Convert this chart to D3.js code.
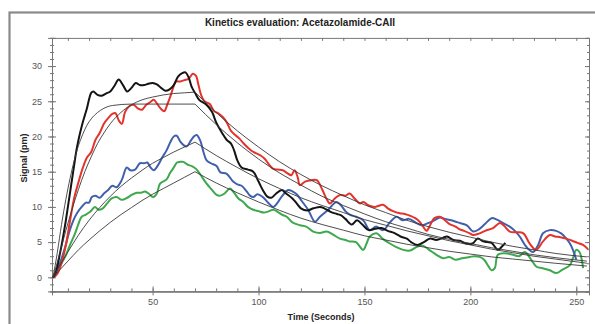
<!DOCTYPE html>
<html>
<head>
<meta charset="utf-8">
<script src="https://cdn.jsdelivr.net/npm/d3@7"></script>
<style>
  body { margin: 0; background: #fff; }
  svg { display: block; font-family: "Liberation Sans", Arial, sans-serif; }
</style>
</head>
<body>
<svg id="chart" width="595" height="324"></svg>
<script>
// tick labels
const timeTicks = [50, 100, 150, 200, 250];
const signalTicks = [0, 5, 10, 15, 20, 25, 30];
const injectionEnd = 70;

// measured signal, [time, signal]
const blackSignal = [
  [3,0],[4,0.5],[5,1.5],[6,3],[7,4.5],[8,6.2],[9,8],[10,10],[11,12],[12,14],[13,16],[14,18],[15,19.5],[16,20.8],[17,22],[18,23],[19,24],[20,25.3],[21,26.2],[22,26.4],[24,25.9],[26,25.8],[28,26.1],[30,26.4],[32,27.2],[34,28.1],[36,27.3],[38,26.4],[40,26.9],[42,27.6],[44,27.3],[46,27.3],[48,27.5],[50,27.6],[52,27.4],[54,26.9],[56,26.5],[58,26.7],[60,27.3],[62,28.5],[64,29.0],[65.5,29.1],[67,28.4],[68.5,27],[70,26.2],[72,25.2],[75,24.6],[78,23.5],[80,22],[83,20.4],[85,19.5],[87,19],[88.5,18],[90,16.6],[92,15.6],[95,15.3],[97.5,15],[100,13.6],[102,12.4],[104,11.5],[106,11.3],[108,11.8],[111,12.4],[113,11.9],[116,11.2],[118,10.5],[120,9.8],[123,9.5],[126,9.8],[129,10],[131,9.8],[134,9.3],[137,9],[139,8.8],[141,8.3],[144,7.5],[146.5,8.1],[149,7.5],[152,6.7],[155,6.9],[158,7.0],[161,6.6],[164,6.3],[167,5.8],[170,5.5],[172,5.0],[175,4.6],[178,5.0],[181,5.5],[184,5.3],[187,5.6],[189,5.8],[192,5.3],[195,5.2],[198,4.8],[201,4.8],[203.5,5.5],[206,5.1],[208,5.0],[210,4.9],[213,3.9],[215,4.4],[216.5,4.9]
];
const redSignal = [
  [3,0],[5,0.5],[7,2],[9,4.5],[11,8],[13,11.3],[15,13.5],[17,15.5],[19,17],[21,17.8],[23,19.5],[25,20.5],[27,21.8],[29,22.6],[31,23.2],[32.5,23.3],[34,22.3],[35.5,21.8],[37,23.5],[39,24.3],[41,24.5],[43,24.0],[45,23.8],[47,24.5],[49,24.9],[50.5,25.2],[52,24.7],[54,23.9],[55.5,23.6],[57,24.6],[58.5,25.8],[60,27.2],[61,27.8],[63,27.8],[65,28.0],[67,28.2],[69,28.9],[70.5,28.6],[71.5,27.5],[73,25.8],[74.5,25.0],[77,24.6],[79,23.6],[81,23.3],[83,22.8],[85,22],[87,20.8],[89,20.2],[91,19.7],[93,19],[95,18.4],[97,17.9],[99,17.6],[101,17.3],[103,16.8],[105,16.0],[107,15.4],[109,15.3],[111.5,15.2],[113.5,14.8],[115.5,14.5],[117,15.2],[118.5,14.2],[119.5,13.1],[122,13.6],[125,13.8],[127.5,13.8],[130,12.5],[132,11.2],[133.7,10.5],[136,11.2],[138.5,11.7],[141,11.6],[143,11.9],[145,11.3],[147.8,10.5],[149.5,10.7],[152,10.2],[155,10.0],[158.8,10.3],[161,9.8],[163.5,9.4],[166.7,9.1],[169,9.0],[172,8.7],[174,8.4],[176,7.9],[177.7,7.2],[179.3,6.6],[181,7.4],[183,8.4],[185.6,8.6],[188,8.1],[190,7.6],[193,7.2],[195,6.8],[197,6.6],[199.7,6.25],[201.3,6.0],[204,6.2],[207,6.6],[210.7,7.0],[214,7.7],[216,7.3],[218.6,6.5],[222,6.4],[225,6.25],[228,4.8],[231,3.9],[234.3,5.1],[237.5,6.0],[240,5.8],[242.5,5.7],[245.3,5.5],[248,5.2],[250.5,4.9],[253.2,4.6],[255.5,4.0]
];
const blueSignal = [
  [3,0],[4,0.5],[6,1.8],[8.7,4.3],[10.5,6.3],[12.6,8.1],[14.5,9.2],[16.5,10.0],[18.5,10.6],[20,10.6],[21.3,11.4],[23,11.6],[25,11.3],[27,11.9],[29,12.4],[31,13.0],[33,12.8],[35.4,13.8],[37.8,15.6],[39.5,15.2],[41.7,15.3],[44,16.2],[46,16.2],[47.5,16.3],[49,15.6],[50.5,15.2],[52.5,15.9],[54.5,17.0],[56.7,18.1],[58.5,19.3],[60,20.0],[61.4,20.1],[63,19.3],[64.5,18.8],[66.1,18.6],[68,19.4],[69.5,20.0],[70.8,20.2],[72.5,19.4],[74,17.8],[75.5,16.6],[77.5,16.2],[80.2,15.8],[82,14.9],[85,14.7],[88,13.6],[90,13.2],[92,13.0],[94.4,12.2],[96,11.6],[97.5,11.4],[99.5,11.8],[102,11.4],[104.5,10.6],[106.9,10.0],[109,10.6],[111,11.5],[114,12.4],[116,12.2],[118,11.8],[120.5,10.8],[123.4,9.6],[126.6,7.9],[129,8.6],[132.9,9.6],[136.8,10.7],[139,10.2],[141,9.4],[143.1,8.9],[146,8.6],[149.4,8.1],[152.5,6.7],[155.5,7.2],[158.8,6.7],[162,7.8],[165.1,8.6],[168,8.1],[171,8.3],[174.6,7.7],[177,7.4],[180,7.7],[183,8.1],[185.6,8.5],[188,8.3],[191,8.1],[194,7.8],[198.2,7.4],[201.3,6.5],[204,6.8],[207,7.6],[210,8.4],[212.5,8.2],[215.5,7.7],[218.6,7.2],[221,6.6],[223.3,5.8],[226.5,4.3],[229.6,3.6],[232,4.6],[234.3,6.25],[237.5,6.7],[240.5,6.6],[243,6.2],[245.3,5.5],[247,4.8],[248.4,3.9],[250,2.5]
];
const greenSignal = [
  [3,0],[4,0.4],[6,1.5],[8.7,2.9],[11,4.6],[13.4,6.25],[15,7.6],[16.5,8.6],[18.5,8.9],[20.5,9.3],[22.8,10.0],[24.5,9.6],[26.5,9.8],[28.5,10.5],[30.7,11.2],[33,11.4],[35.5,11.0],[38,11.3],[40.1,11.7],[42.5,12.0],[44.5,12.0],[46.4,12.2],[48.5,11.8],[50.3,11.4],[52,11.9],[53.5,13.3],[56.6,13.9],[58.2,14.8],[60,15.6],[61.5,16.3],[63,16.4],[64.5,16.4],[66.5,16.0],[68.5,15.8],[70.5,15.4],[72.5,14.6],[75.5,13.3],[77.5,12.6],[80.2,11.7],[82,11.6],[84,11.9],[86.5,12.6],[88.5,12.0],[90.5,11.2],[92.8,10.7],[95,10.0],[97.5,9.6],[100,9.4],[102.5,9.2],[105,9.4],[106.9,9.6],[109,9.3],[111,8.9],[113.3,8.6],[116,7.8],[119.5,7.4],[122.5,7.2],[125.8,6.5],[129,6.3],[132.1,6.5],[135,6.1],[138.4,5.5],[141,5.3],[143,5.1],[146,5.0],[149.4,3.9],[151,4.8],[152.5,5.8],[155.7,6.25],[158.5,5.5],[162,4.8],[165,4.3],[168.3,3.9],[171.5,3.8],[174.6,4.3],[177.5,4.5],[181,3.8],[184,3.2],[187.1,2.7],[190,2.9],[193,2.5],[196,2.7],[199.7,2.9],[202,3.0],[204.4,2.9],[206.5,2.5],[208.5,1.6],[210,1.0],[211.5,1.3],[213,3.2],[216.5,3.4],[220.1,3.2],[223,3.0],[225.7,3.6],[228.5,2.6],[231.2,1.5],[234,1.3],[237.5,1.0],[240.6,0.6],[243.5,1.1],[246.9,1.7],[248.5,2.8],[250,3.9],[251.5,3.6],[253.2,1.3]
];

// fitted curves
const blackFit = [[3,0],[5,3.5],[7,7.5],[9,11],[11,14],[13,16.6],[15,18.7],[17,20.3],[19,21.6],[21,22.5],[24,23.4],[27,24],[31,24.4],[40,24.6],[55,24.6],[70,24.6],[80,21.7],[90,19.1],[100,16.8],[110,14.8],[120,13.1],[130,11.5],[140,10.2],[150,9.0],[160,7.9],[170,7.0],[180,6.1],[190,5.4],[200,4.8],[210,4.2],[220,3.7],[230,3.2],[240,2.8],[255,2.3]];
const redFit = [[3,0],[6,3.2],[9,6.6],[12,9.7],[15,12.5],[18,15],[21,17.1],[24,19],[27,20.5],[30,21.8],[35,23.4],[40,24.5],[45,25.2],[50,25.6],[55,25.9],[60,26.1],[65,26.2],[70,26.3],[80,23.4],[90,20.8],[100,18.5],[110,16.4],[120,14.6],[130,13.0],[140,11.6],[150,10.3],[160,9.2],[170,8.1],[180,7.2],[190,6.4],[200,5.7],[210,5.0],[220,4.4],[230,3.9],[240,3.4],[255,2.9]];
const blueFit = [[3,0],[6,1.6],[10,3.6],[15,6],[20,8.1],[25,9.9],[30,11.5],[35,12.9],[40,14.1],[45,15.2],[50,16.2],[55,17],[60,17.8],[65,18.5],[70,19.2],[80,17.3],[90,15.6],[100,14.0],[110,12.6],[120,11.3],[130,10.2],[140,9.2],[150,8.2],[160,7.4],[170,6.6],[180,5.9],[190,5.2],[200,4.6],[210,4.0],[220,3.5],[230,3.0],[240,2.6],[255,2.0]];
const greenFit = [[3,0],[6,1.0],[10,2.3],[15,3.9],[20,5.3],[25,6.6],[30,7.8],[35,8.9],[40,9.9],[45,10.9],[50,11.8],[55,12.6],[60,13.4],[65,14.2],[70,15.0],[80,13.4],[90,12.0],[100,10.7],[110,9.5],[120,8.4],[130,7.5],[140,6.7],[150,5.9],[160,5.3],[170,4.7],[180,4.2],[190,3.7],[200,3.3],[210,2.9],[220,2.6],[230,2.3],[240,2.0],[255,1.6]];

const svg = d3.select('#chart');

const x = d3.scaleLinear().domain([2.5, 256]).range([52, 589]);
const y = d3.scaleLinear().domain([-2, 34]).range([291.4, 37.9]);

// outer frame
svg.append('rect')
  .attr('x', 9.5).attr('y', 12.5)
  .attr('width', 620).attr('height', 340)
  .attr('fill', 'none')
  .attr('stroke', '#8a8a8a')
  .attr('stroke-width', 2.2);

// title
svg.append('text')
  .attr('x', 300).attr('y', 26)
  .attr('text-anchor', 'middle')
  .attr('font-size', 10).attr('font-weight', 'bold')
  .attr('fill', '#222')
  .text('Kinetics evaluation: Acetazolamide-CAII');

const styleAxis = g => {
  g.select('.domain').attr('stroke', '#777');
  g.selectAll('.tick line').attr('stroke', '#777');
  g.selectAll('.tick text').attr('fill', '#555').attr('font-size', 9)
    .attr('font-family', '"Liberation Sans", Arial, sans-serif');
};

const xMinor = d3.range(10, 256, 10);
const yMinor = d3.range(-2, 34.5, 1);
const yBottom = y.range()[0];
const yTop = y.range()[1];

// bottom axis
svg.append('g')
  .attr('transform', `translate(0,${yBottom})`)
  .call(d3.axisBottom(x).tickValues(xMinor).tickSize(-3).tickFormat(''))
  .call(styleAxis);
svg.append('g')
  .attr('transform', `translate(0,${yBottom})`)
  .call(d3.axisBottom(x).tickValues(timeTicks).tickSize(4).tickPadding(3))
  .call(styleAxis);
svg.append('g')
  .attr('transform', `translate(0,${yBottom})`)
  .call(d3.axisBottom(x).tickValues(timeTicks).tickSize(-5).tickFormat(''))
  .call(styleAxis);

// top axis
svg.append('g')
  .attr('transform', `translate(0,${yTop})`)
  .call(d3.axisTop(x).tickValues(xMinor).tickSize(-3).tickFormat(''))
  .call(styleAxis);

// left axis
svg.append('g')
  .attr('transform', `translate(${x.range()[0]},0)`)
  .call(d3.axisLeft(y).tickValues(yMinor).tickSize(2).tickFormat(''))
  .call(styleAxis);
svg.append('g')
  .attr('transform', `translate(${x.range()[0]},0)`)
  .call(d3.axisLeft(y).tickValues(yMinor).tickSize(-2).tickFormat(''))
  .call(styleAxis);
svg.append('g')
  .attr('transform', `translate(${x.range()[0]},0)`)
  .call(d3.axisLeft(y).tickValues(signalTicks).tickSize(4).tickPadding(6))
  .call(styleAxis);
svg.append('g')
  .attr('transform', `translate(${x.range()[0]},0)`)
  .call(d3.axisLeft(y).tickValues(signalTicks).tickSize(-4).tickFormat(''))
  .call(styleAxis);

// right axis
svg.append('g')
  .attr('transform', `translate(${x.range()[1]},0)`)
  .call(d3.axisRight(y).tickValues(yMinor).tickSize(-2).tickFormat(''))
  .call(styleAxis);
svg.append('g')
  .attr('transform', `translate(${x.range()[1]},0)`)
  .call(d3.axisRight(y).tickValues(signalTicks).tickSize(-4).tickFormat(''))
  .call(styleAxis);

// axis titles
svg.append('text')
  .attr('x', 321).attr('y', 320)
  .attr('text-anchor', 'middle')
  .attr('font-size', 9).attr('font-weight', 'bold')
  .attr('fill', '#222')
  .text('Time (Seconds)');
svg.append('text')
  .attr('transform', 'translate(27,158) rotate(-90)')
  .attr('text-anchor', 'middle')
  .attr('font-size', 9).attr('font-weight', 'bold')
  .attr('fill', '#222')
  .text('Signal (pm)');

// clip to plot area
svg.append('clipPath').attr('id', 'plot-clip')
  .append('rect')
  .attr('x', x.range()[0]).attr('y', yTop)
  .attr('width', x.range()[1] - x.range()[0])
  .attr('height', yBottom - yTop);

const plot = svg.append('g').attr('clip-path', 'url(#plot-clip)');

const signalLine = d3.line()
  .x(d => x(d[0]))
  .y(d => y(d[1]))
  .curve(d3.curveCatmullRom.alpha(0.5));

const fitLine = d3.line()
  .x(d => x(d[0]))
  .y(d => y(d[1]))
  .curve(d3.curveMonotoneX);

const signals = [
  { data: greenSignal, color: '#3ea84e' },
  { data: blueSignal, color: '#4160ac' },
  { data: redSignal, color: '#e4332b' },
  { data: blackSignal, color: '#141414' }
];

plot.selectAll('.signal')
  .data(signals)
  .enter()
  .append('path')
  .attr('class', 'signal')
  .attr('d', d => signalLine(d.data))
  .attr('fill', 'none')
  .attr('stroke', d => d.color)
  .attr('stroke-width', 2)
  .attr('stroke-linejoin', 'round');

// fits: association and dissociation drawn apart so the corner stays sharp
const fits = [blackFit, redFit, blueFit, greenFit];
fits.forEach(f => {
  const on = f.filter(d => d[0] <= injectionEnd);
  const off = f.filter(d => d[0] >= injectionEnd);
  [on, off].forEach(part => {
    plot.append('path')
      .attr('d', fitLine(part))
      .attr('fill', 'none')
      .attr('stroke', '#3a3a3a')
      .attr('stroke-width', 0.9);
  });
});
</script>
</body>
</html>
